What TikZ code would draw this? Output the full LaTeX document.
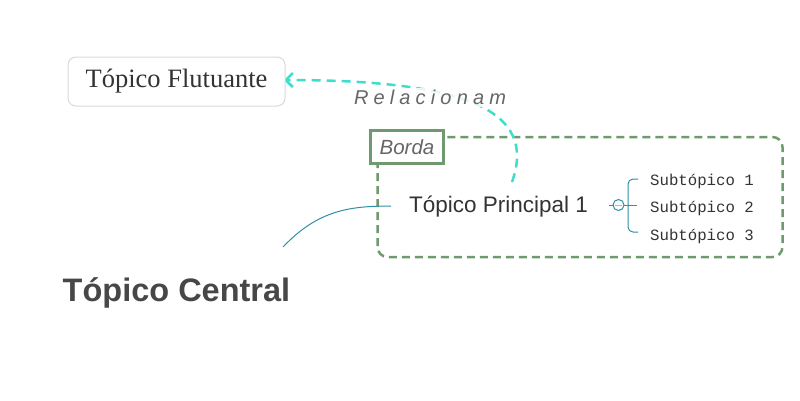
\documentclass[tikz,border=0pt]{standalone}
\usepackage{fontspec}
\usetikzlibrary{arrows.meta}
\newfontfamily\arialf{Liberation Sans}
\newfontfamily\seriff{Liberation Serif}
\newfontfamily\monof{Liberation Mono}
\definecolor{turq}{HTML}{3EDECC}
\definecolor{bordgreen}{HTML}{6E9A6E}
\definecolor{teal}{HTML}{2E8FA6}
\definecolor{graybox}{HTML}{D9D9D9}
\definecolor{txtdark}{HTML}{333333}
\definecolor{txtgray}{HTML}{666666}
\tikzset{
  floatbox/.style={draw=graybox, line width=1pt, rounded corners=8pt, fill=white,
    minimum width=217pt, minimum height=49pt, inner sep=0pt,
    font=\seriff\fontsize{26.5}{31}\selectfont, text=txtdark},
  bordertag/.style={draw=bordgreen, line width=2.8pt, fill=white,
    minimum width=73pt, minimum height=33pt, inner sep=0pt,
    font=\arialf\itshape\fontsize{20.5}{24}\selectfont, text=txtgray},
  maintopic/.style={inner sep=0pt, anchor=base, font=\arialf\fontsize{22.5}{27}\selectfont, text=txtdark},
  central/.style={inner sep=0pt, anchor=base, font=\arialf\bfseries\fontsize{32.5}{38}\selectfont, text=black!72},
  subt/.style={inner sep=0pt, anchor=base west, font=\monof\fontsize{15.7}{18}\selectfont, text=txtdark},
  rellabel/.style={inner sep=2pt, fill=white, fill opacity=0.85, text opacity=1,
    font=\arialf\itshape\fontsize{20}{24}\selectfont, text=txtgray},
  relline/.style={draw=turq, line width=2.5pt, dash pattern=on 9pt off 6pt},
  bordline/.style={draw=bordgreen, line width=2.5pt, dash pattern=on 8pt off 5pt, rounded corners=10pt},
  branch/.style={draw=teal, line width=1pt}
}
\begin{document}
\begin{tikzpicture}[x=1pt,y=-1pt]
\useasboundingbox (0,0) rectangle (800,400);
% border
\draw[bordline] (377.5,137) rectangle (782.5,257);
% relationship
\coordinate (rs) at (512,182);
\coordinate (re) at (284,80);
\draw[relline, -{Straight Barb[length=7pt,width=14pt]}] (rs) .. controls (537,112) and (470,80) .. (re);
\node[rellabel] (rl) at (430,97.5) {\makebox[152pt][s]{R\hfill e\hfill l\hfill a\hfill c\hfill i\hfill o\hfill n\hfill a\hfill m}};
% floating topic
\node[floatbox] (ft) at (176.5,81.5) {Tópico Flutuante};
% border tag
\node[bordertag] (bt) at (407,147) {Borda};
% main topic
\node[maintopic] (tp) at (498.5,212.3) {Tópico Principal 1};
% central
\node[central] (ct) at (176.5,301) {Tópico Central};
% central connector
\coordinate (c1) at (283,247);
\coordinate (p1) at (391,206);
\draw[branch] (c1) .. controls (318,210) and (350,206) .. (p1);
% subtopics
\node[subt] (s1) at (650,185.5) {Subtópico 1};
\node[subt] (s2) at (650,212.5) {Subtópico 2};
\node[subt] (s3) at (650,240) {Subtópico 3};
% collapse circle and brace
\coordinate (cc) at (618.5,205);
\draw[branch, fill=white] (cc) circle (5.5pt);
\draw[draw=black!30!blue!30, line width=1pt] (615,205) -- (622,205);
\draw[branch] (609,205) -- (612.8,205);
\draw[branch] (624.2,205) -- (637,205);
\coordinate (b1) at (638,179);
\coordinate (b3) at (638,232);
\draw[branch, rounded corners=5pt] (b1) -- (628,179) -- (628,232) -- (b3);
\end{tikzpicture}
\end{document}
